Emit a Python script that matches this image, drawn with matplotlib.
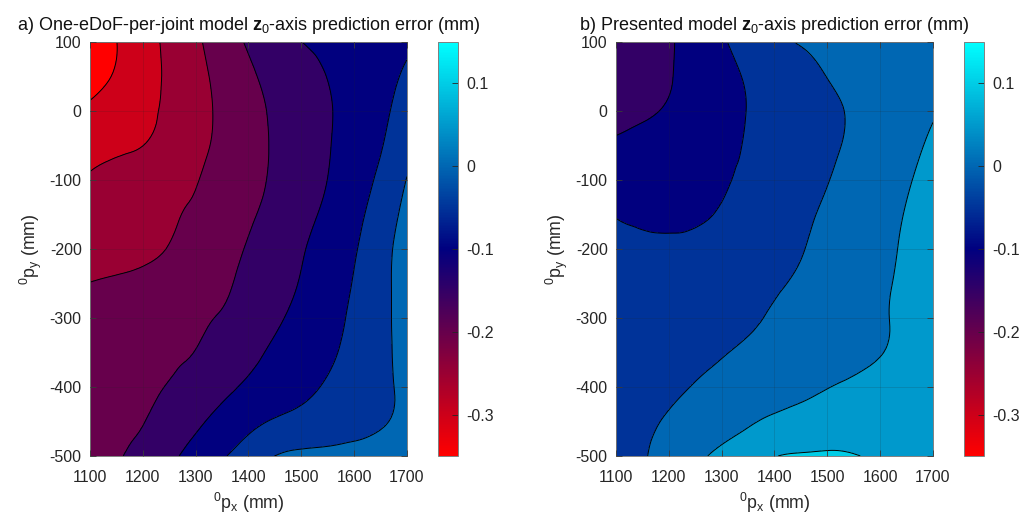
import numpy as np
import matplotlib
matplotlib.use("Agg")
import matplotlib.pyplot as plt
import matplotlib.tri as mtri
from matplotlib.colors import LinearSegmentedColormap, Normalize
from matplotlib.cm import ScalarMappable

plt.rcParams["font.family"] = ["Liberation Sans", "DejaVu Sans"]
plt.rcParams["mathtext.fontset"] = "custom"
plt.rcParams["mathtext.rm"] = "Liberation Sans"
plt.rcParams["mathtext.it"] = "Liberation Sans:italic"
plt.rcParams["mathtext.bf"] = "Liberation Sans:bold"
plt.rcParams["axes.unicode_minus"] = False

# Workspace grid (mm)
px_mm = [1100, 1150, 1200, 1250, 1300, 1350, 1400, 1450, 1500, 1550, 1600, 1650, 1700]
py_mm = [100, 50, 0, -50, -100, -150, -200, -250, -300, -350, -400, -450, -500]

# z0-axis prediction error (mm), rows follow py_mm, columns follow px_mm
err_one_edof = [
    [-0.330, -0.3006, -0.270, -0.239, -0.208, -0.176, -0.145, -0.123, -0.1005, -0.089, -0.077, -0.066, -0.056],
    [-0.321, -0.2948, -0.269, -0.242, -0.214, -0.186, -0.158, -0.136, -0.118, -0.099, -0.0815, -0.064, -0.044],
    [-0.290, -0.275, -0.260, -0.242, -0.217, -0.191, -0.166, -0.143, -0.1235, -0.104, -0.0824, -0.060, -0.030],
    [-0.266, -0.258, -0.2503, -0.231, -0.211, -0.190, -0.167, -0.145, -0.124, -0.103, -0.0786, -0.053, -0.015],
    [-0.245, -0.234, -0.223, -0.2125, -0.202, -0.1835, -0.164, -0.143, -0.1215, -0.0995, -0.072, -0.041, 0.0017],
    [-0.230, -0.221, -0.213, -0.204, -0.194, -0.176, -0.156, -0.136, -0.114, -0.0907, -0.063, -0.028, 0.014],
    [-0.215, -0.211, -0.207, -0.1985, -0.183, -0.165, -0.1466, -0.1254, -0.104, -0.0796, -0.054, -0.0177, 0.0208],
    [-0.1995, -0.196, -0.191, -0.182, -0.172, -0.158, -0.138, -0.1177, -0.097, -0.0726, -0.0473, -0.014, 0.0193],
    [-0.192, -0.183, -0.1745, -0.166, -0.157, -0.146, -0.1266, -0.107, -0.0864, -0.065, -0.0418, -0.0124, 0.017],
    [-0.185, -0.176, -0.167, -0.158, -0.149, -0.130, -0.111, -0.093, -0.0754, -0.0577, -0.036, -0.011, 0.014],
    [-0.178, -0.168, -0.1585, -0.1474, -0.1289, -0.1104, -0.093, -0.0772, -0.0614, -0.045, -0.0268, -0.0087, 0.008],
    [-0.172, -0.1617, -0.1514, -0.1306, -0.108, -0.0857, -0.0634, -0.0457, -0.0351, -0.0245, -0.0138, -0.0032, 0.007],
    [-0.165, -0.154, -0.135, -0.110, -0.083, -0.055, -0.0275, 0.0, 0.010, 0.011, 0.013, 0.015, 0.016],
]

err_presented = [
    [-0.145, -0.125, -0.105, -0.0806, -0.0551, -0.0328, -0.0112, 0.0026, 0.008, 0.0136, 0.019, 0.0245, 0.030],
    [-0.140, -0.1215, -0.103, -0.0836, -0.064, -0.0457, -0.030, -0.0146, 0.0006, 0.0099, 0.019, 0.0286, 0.038],
    [-0.120, -0.108, -0.0948, -0.0795, -0.064, -0.0489, -0.0355, -0.022, -0.0086, 0.005, 0.019, 0.033, 0.047],
    [-0.093, -0.084, -0.075, -0.066, -0.057, -0.0473, -0.034, -0.0207, -0.0074, 0.0071, 0.0234, 0.0396, 0.0558],
    [-0.074, -0.0685, -0.063, -0.0576, -0.0535, -0.0417, -0.0282, -0.0148, -0.0013, 0.0144, 0.0304, 0.0465, 0.0625],
    [-0.0515, -0.055, -0.056, -0.0535, -0.0465, -0.0306, -0.0189, -0.0072, 0.0059, 0.0213, 0.0367, 0.0519, 0.067],
    [-0.045, -0.044, -0.043, -0.040, -0.031, -0.024, -0.0123, -0.0019, 0.0118, 0.026, 0.0405, 0.0549, 0.069],
    [-0.040, -0.0339, -0.0278, -0.0217, -0.0156, -0.0095, -0.0034, 0.0056, 0.0185, 0.0313, 0.0441, 0.0569, 0.0697],
    [-0.036, -0.0296, -0.0233, -0.0169, -0.0106, -0.0042, 0.0036, 0.0142, 0.0248, 0.0354, 0.046, 0.0578, 0.070],
    [-0.032, -0.0246, -0.0171, -0.0097, -0.0022, 0.006, 0.0146, 0.0231, 0.0317, 0.0402, 0.0488, 0.0574, 0.0659],
    [-0.027, -0.0174, -0.0077, 0.0019, 0.0113, 0.0207, 0.0301, 0.0395, 0.0489, 0.056, 0.062, 0.066, 0.068],
    [-0.022, -0.0089, 0.0043, 0.0177, 0.0312, 0.0446, 0.058, 0.066, 0.072, 0.075, 0.076, 0.076, 0.075],
    [-0.027, -0.0045, 0.0179, 0.0402, 0.0601, 0.0783, 0.0985, 0.104, 0.106, 0.102, 0.094, 0.088, 0.084],
]

levels = [-0.35, -0.30, -0.25, -0.20, -0.15, -0.10, -0.05, 0.0, 0.05, 0.10, 0.15]
cbar_ticks = [-0.3, -0.2, -0.1, 0.0, 0.1]
cbar_labels = ["-0.3", "-0.2", "-0.1", "0", "0.1"]
x_ticks = [1100, 1200, 1300, 1400, 1500, 1600, 1700]
y_ticks = [-500, -400, -300, -200, -100, 0, 100]

titles = [
    r"a) One-eDoF-per-joint model $\mathbf{z}_{\mathrm{0}}$-axis prediction error (mm)",
    r"b) Presented model $\mathbf{z}_{\mathrm{0}}$-axis prediction error (mm)",
]

# red -> navy -> cyan colour scale
cmap = LinearSegmentedColormap.from_list(
    "red_navy_cyan", [(0.0, (1.0, 0.0, 0.0)), (0.5, (0.0, 0.0, 0.5)), (1.0, (0.0, 1.0, 1.0))]
)
norm = Normalize(vmin=levels[0], vmax=levels[-1])
band_colors = [cmap(norm(lv)) for lv in levels[:-1]]

W, H = 1033, 521
fig = plt.figure(figsize=(W / 100, H / 100), dpi=100)


def px_rect(x0, y0, x1, y1):
    return [x0 / W, 1 - y1 / H, (x1 - x0) / W, (y1 - y0) / H]


edge = "#3a3a3a"
axes_rects = [px_rect(90, 42, 407, 456), px_rect(616, 42, 933, 456)]
cbar_rects = [px_rect(438, 42, 458, 456), px_rect(964, 42, 984, 456)]

X, Y = np.meshgrid(px_mm, py_mm)
triang = mtri.Triangulation(X.ravel().astype(float), Y.ravel().astype(float))
refiner = mtri.UniformTriRefiner(triang)

for data, title, arect, crect in zip([err_one_edof, err_presented], titles, axes_rects, cbar_rects):
    Z = np.array(data, dtype=float)
    # smooth contours on a refined triangulation of the measurement grid
    tri_fine, z_fine = refiner.refine_field(Z.ravel(), subdiv=3)
    z_fine = np.clip(z_fine, levels[0] + 1e-4, levels[-1] - 1e-4)

    ax = fig.add_axes(arect)
    ax.tricontourf(tri_fine, z_fine, levels=levels, colors=band_colors)
    ax.tricontour(tri_fine, z_fine, levels=levels[1:-1], colors="k",
                  linewidths=0.7, linestyles="solid")
    ax.set_xlim(1100, 1700)
    ax.set_ylim(-500, 100)
    ax.set_xticks(x_ticks)
    ax.set_yticks(y_ticks)
    ax.set_axisbelow(False)
    ax.grid(True, color="#262626", alpha=0.18, linewidth=0.6)
    ax.tick_params(direction="in", length=4, width=0.6, color=edge, labelsize=11.5,
                   labelcolor="#262626", top=True, right=True)
    ax.tick_params(axis="x", pad=10)
    ax.tick_params(axis="y", pad=6)
    for s in ax.spines.values():
        s.set_color("#808080")
        s.set_linewidth(0.7)
    ax.set_title(title, fontsize=13.0, color="#111111", pad=9)
    ax.set_xlabel(r"$^{\mathrm{0}}$p$_{\mathrm{x}}$ (mm)", fontsize=12.8, color="#262626", labelpad=4)
    ax.set_ylabel(r"$^{\mathrm{0}}$p$_{\mathrm{y}}$ (mm)", fontsize=12.8, color="#262626", labelpad=4)

    cax = fig.add_axes(crect)
    cb = fig.colorbar(ScalarMappable(norm=norm, cmap=cmap), cax=cax, ticks=cbar_ticks)
    cb.set_ticklabels(cbar_labels)
    cb.outline.set_edgecolor("#808080")
    cb.outline.set_linewidth(0.7)
    cax.tick_params(direction="in", length=4, width=0.6, color="#262626", labelsize=11.5,
                    labelcolor="#262626", pad=6)

fig.savefig("out.png", dpi=100)
